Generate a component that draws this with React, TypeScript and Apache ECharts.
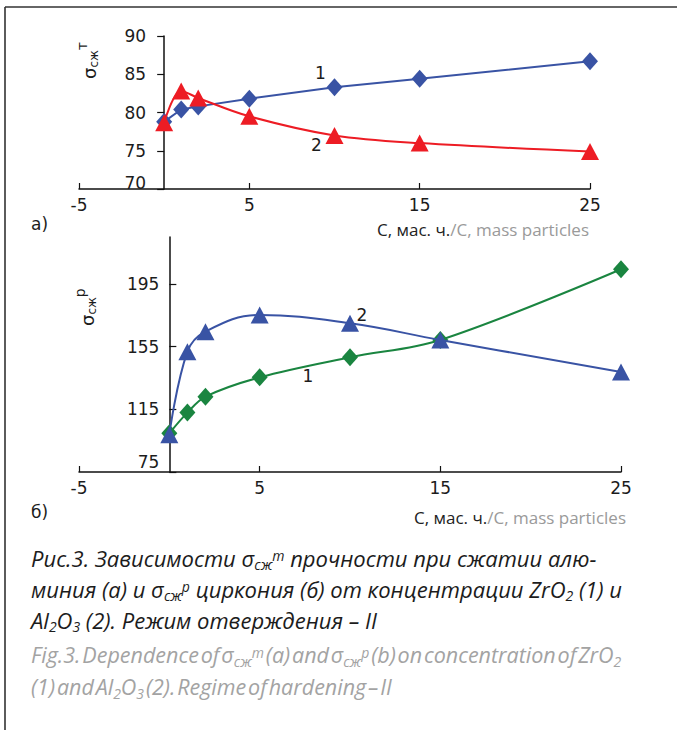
import React, { useEffect, useRef } from "react";
import * as echarts from "echarts";

// ---- data ----
const concentrations = [0, 1, 2, 5, 10, 15, 25];
const sigmaT_ZrO2 = [78.8, 80.4, 80.8, 81.8, 83.3, 84.4, 86.7];
const sigmaT_Al2O3 = [78.65, 82.8, 81.9, 79.5, 77.0, 76.0, 74.9];
const sigmaP_ZrO2 = [99.7, 112.9, 123.1, 135.4, 148.2, 159.3, 204.4];
const sigmaP_Al2O3 = [98.8, 151.8, 164.6, 175.2, 169.9, 159.3, 138.8];

const xTicks = [-5, 5, 15, 25];
const yTicksTop = [70, 75, 80, 85, 90];
const yTicksBottom = [75, 115, 155, 195];
const yMaxBottom = 225;

const xAxisNameRu = "С, мас. ч.";
const xAxisNameEn = "/C, mass particles";

const captionRu = [
  "Рис.3. Зависимости σ{sub|сж}{sup|т} прочности при сжатии алю-",
  "миния (а) и σ{sub|сж}{sup|р} циркония (б) от концентрации ZrO{sub|2} (1) и",
  "Al{sub|2}O{sub|3} (2). Режим отверждения – II",
];
const captionEn = [
  "Fig.3. Dependence of σ{sub|сж}{sup|m} (a) and σ{sub|сж}{sup|p} (b) on concentration of ZrO{sub|2}",
  "(1) and Al{sub|2}O{sub|3} (2). Regime of hardening – II",
];

// ---- styling ----
const TICK_FONT = "'DejaVu Sans', sans-serif";
const TEXT_FONT = "'Open Sans', sans-serif";
const BLUE = "#3953a4";
const RED = "#ed1c24";
const GREEN = "#1a8540";
const AXIS = "#111111";
const INK = "#1c1c1c";
const GRAY = "#a3a3a3";

const GRID_TOP = { left: 79, top: 36, width: 511, height: 153 };
const GRID_BOT = { left: 79, top: 237, width: 542, height: 235 };

type Note = { index: number; text: string; offset: [number, number] };

const buildData = (ys: number[], note?: Note) =>
  concentrations.map((x, i) => {
    if (note && note.index === i) {
      return {
        value: [x, ys[i]],
        label: {
          show: true,
          position: "inside",
          offset: note.offset,
          formatter: note.text,
          fontFamily: TICK_FONT,
          fontSize: 17,
          color: INK,
        },
      };
    }
    return [x, ys[i]];
  });

const xMin = xTicks[0];
const xMax = xTicks[xTicks.length - 1];
// y axis crosses the x axis at 0: shift it inside the grid
const zeroOffset = (g: { width: number }) => -((0 - xMin) / (xMax - xMin)) * g.width;

const xAxisBase = (gridIndex: number) => ({
  type: "value",
  gridIndex,
  min: xMin,
  max: xMax,
  interval: xTicks[1] - xTicks[0],
  axisLine: { show: true, onZero: false, lineStyle: { color: AXIS, width: 1.5 } },
  axisTick: { show: true, inside: true, length: 6, lineStyle: { color: AXIS, width: 1.2 } },
  axisLabel: { fontFamily: TICK_FONT, fontSize: 17, color: INK, margin: 7 },
  splitLine: { show: false },
});

const minLabelFormatter = (minV: number) => (v: number) =>
  v === minV ? `{lo|${v}}` : `${v}`;

const subSup = (
  family: string,
  fill: string,
  italic: boolean,
  subSize: number,
  supSize: number,
  lh: number,
  subPad: number,
  supPad: number,
  spSize: number
) => ({
  sub: {
    fontSize: subSize,
    fontFamily: family,
    fontStyle: italic ? "italic" : "normal",
    fill,
    lineHeight: lh,
    padding: [subPad, 0, 0, 0],
  },
  sup: {
    fontSize: supSize,
    fontFamily: family,
    fontStyle: italic ? "italic" : "normal",
    fill,
    lineHeight: lh,
    padding: [0, 0, supPad, 0],
  },
  sp: {
    fontSize: spSize,
    fontFamily: family,
    fill,
    lineHeight: lh,
  },
});

const captionLine = (
  x: number,
  y: number,
  text: string,
  fill: string,
  size: number,
  tightSpaces: boolean
) => ({
  type: "text",
  x,
  y,
  silent: true,
  style: {
    text: tightSpaces ? text.replace(/ /g, "{sp| }") : text,
    fill,
    fontSize: size,
    fontFamily: TEXT_FONT,
    fontStyle: "italic",
    lineHeight: 32,
    align: "left",
    verticalAlign: "middle",
    rich: subSup(TEXT_FONT, fill, true, 14, 14, 32, 14, 4, 7),
  },
});

const axisTitle = (x: number, y: number, sup: string) => ({
  type: "text",
  x,
  y,
  rotation: Math.PI / 2,
  silent: true,
  style: {
    text: `σ{sub|сж}{sup|${sup}}`,
    fill: INK,
    fontSize: 18,
    fontFamily: TICK_FONT,
    lineHeight: 44,
    align: "left",
    verticalAlign: "middle",
    rich: subSup(TICK_FONT, INK, false, 12, 14, 44, 9, 15, 12),
  },
});

const xName = (x: number, y: number) => ({
  type: "text",
  x,
  y,
  silent: true,
  style: {
    text: `{a|${xAxisNameRu}}{b|${xAxisNameEn}}`,
    align: "right",
    verticalAlign: "middle",
    rich: {
      a: { fontSize: 17, fontFamily: TEXT_FONT, fill: "#222222" },
      b: { fontSize: 17, fontFamily: TEXT_FONT, fill: "#9a9a9a" },
    },
  },
});

export default function App() {
  const ref = useRef<HTMLDivElement>(null);

  useEffect(() => {
    if (!ref.current) return;
    const chart = echarts.init(ref.current, null, { renderer: "svg" });

    const option: any = {
      animation: false,
      backgroundColor: "#ffffff",
      grid: [
        { ...GRID_TOP, containLabel: false },
        { ...GRID_BOT, containLabel: false },
      ],
      xAxis: [xAxisBase(0), xAxisBase(1)],
      yAxis: [
        {
          type: "value",
          gridIndex: 0,
          position: "left",
          offset: zeroOffset(GRID_TOP),
          min: yTicksTop[0],
          max: yTicksTop[yTicksTop.length - 1],
          interval: yTicksTop[1] - yTicksTop[0],
          axisLine: { show: true, onZero: false, lineStyle: { color: AXIS, width: 1.5 } },
          axisTick: { show: true, inside: false, length: 7, lineStyle: { color: AXIS, width: 1.2 } },
          axisLabel: {
            fontFamily: TICK_FONT,
            fontSize: 17,
            color: INK,
            margin: 18,
            formatter: minLabelFormatter(yTicksTop[0]),
            rich: { lo: { fontFamily: TICK_FONT, fontSize: 17, color: INK, padding: [0, 0, 13, 0] } },
          },
          splitLine: { show: false },
        },
        {
          type: "value",
          gridIndex: 1,
          position: "left",
          offset: zeroOffset(GRID_BOT),
          min: yTicksBottom[0],
          max: yMaxBottom,
          interval: yTicksBottom[1] - yTicksBottom[0],
          axisLine: { show: true, onZero: false, lineStyle: { color: AXIS, width: 1.5 } },
          axisTick: {
            show: true,
            inside: true,
            length: 7,
            customValues: yTicksBottom,
            lineStyle: { color: AXIS, width: 1.2 },
          },
          axisLabel: {
            fontFamily: TICK_FONT,
            fontSize: 17,
            color: INK,
            margin: 10,
            customValues: yTicksBottom,
            formatter: minLabelFormatter(yTicksBottom[0]),
            rich: { lo: { fontFamily: TICK_FONT, fontSize: 17, color: INK, padding: [0, 0, 20, 0] } },
          },
          splitLine: { show: false },
        },
      ],
      series: [
        {
          type: "line",
          xAxisIndex: 0,
          yAxisIndex: 0,
          data: buildData(sigmaT_ZrO2, { index: 4, text: "1", offset: [-14, -14] }),
          symbol: "diamond",
          symbolSize: [16, 18],
          smooth: false,
          lineStyle: { color: BLUE, width: 2 },
          itemStyle: { color: BLUE },
          emphasis: { disabled: true },
          silent: true,
          z: 2,
        },
        {
          type: "line",
          xAxisIndex: 0,
          yAxisIndex: 0,
          data: buildData(sigmaT_Al2O3, { index: 4, text: "2", offset: [-18, 10] }),
          symbol: "triangle",
          symbolSize: [18, 17],
          smooth: 0.35,
          lineStyle: { color: RED, width: 2 },
          itemStyle: { color: RED },
          emphasis: { disabled: true },
          silent: true,
          z: 3,
        },
        {
          type: "line",
          xAxisIndex: 1,
          yAxisIndex: 1,
          data: buildData(sigmaP_ZrO2, { index: 4, text: "1", offset: [-42, 19] }),
          symbol: "diamond",
          symbolSize: [16, 18],
          smooth: 0.35,
          lineStyle: { color: GREEN, width: 2 },
          itemStyle: { color: GREEN },
          emphasis: { disabled: true },
          silent: true,
          z: 2,
        },
        {
          type: "line",
          xAxisIndex: 1,
          yAxisIndex: 1,
          data: buildData(sigmaP_Al2O3, { index: 4, text: "2", offset: [12, -8] }),
          symbol: "triangle",
          symbolSize: [18, 17],
          smooth: 0.4,
          lineStyle: { color: BLUE, width: 2 },
          itemStyle: { color: BLUE },
          emphasis: { disabled: true },
          silent: true,
          z: 3,
        },
      ],
      graphic: [
        { type: "line", silent: true, shape: { x1: 5, y1: 7, x2: 677, y2: 7 }, style: { stroke: "#333", lineWidth: 1.6 } },
        { type: "line", silent: true, shape: { x1: 5, y1: 7, x2: 5, y2: 730 }, style: { stroke: "#333", lineWidth: 1.6 } },
        axisTitle(89, 79, "т"),
        axisTitle(87, 326, "р"),
        {
          type: "text",
          x: 31,
          y: 224,
          silent: true,
          style: { text: "а)", fontSize: 17, fontFamily: TICK_FONT, fill: INK, align: "left", verticalAlign: "middle" },
        },
        {
          type: "text",
          x: 31,
          y: 512,
          silent: true,
          style: { text: "б)", fontSize: 17, fontFamily: TICK_FONT, fill: INK, align: "left", verticalAlign: "middle" },
        },
        xName(589, 229),
        xName(626, 517),
        captionLine(31, 557.5, captionRu[0], INK, 22, false),
        captionLine(31, 588.5, captionRu[1], INK, 22, false),
        captionLine(31, 619.5, captionRu[2], INK, 22, false),
        captionLine(31, 654.5, captionEn[0], GRAY, 21.5, true),
        captionLine(31, 686.5, captionEn[1], GRAY, 21.5, true),
      ],
    };

    chart.setOption(option);
    return () => chart.dispose();
  }, []);

  return (
    <div
      ref={ref}
      style={{ position: "absolute", left: 0, top: 0, width: 677, height: 730, background: "#fff" }}
    />
  );
}
